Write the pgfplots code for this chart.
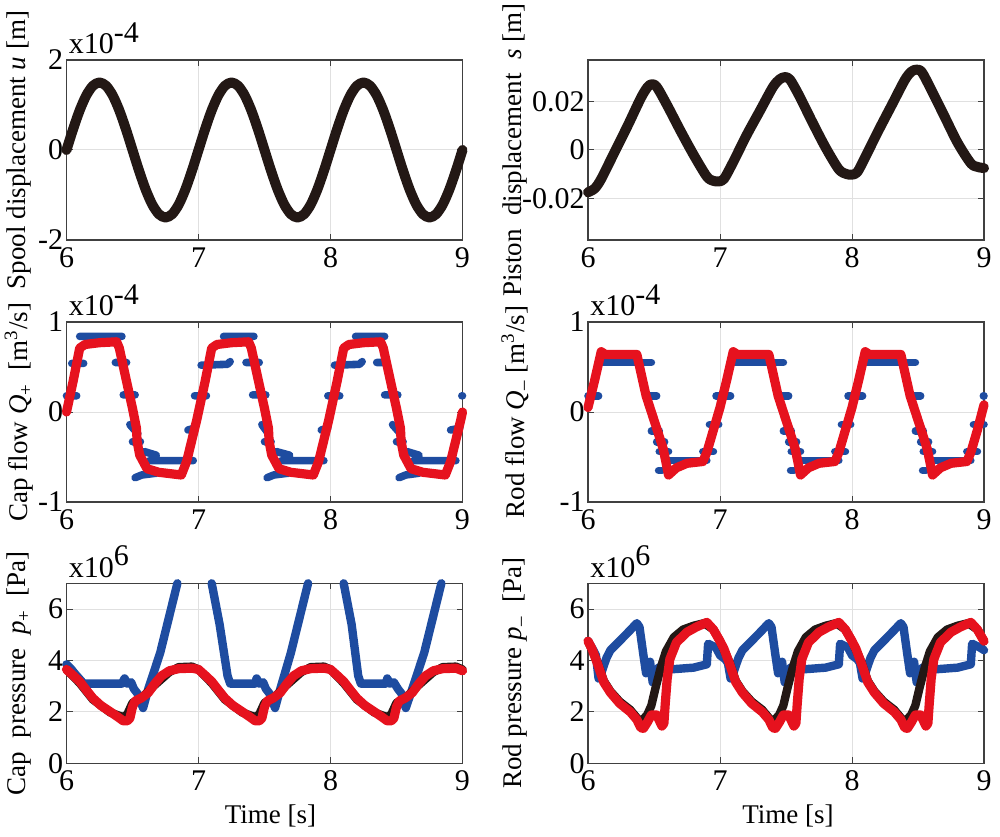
\documentclass[border=0pt]{standalone}
\usepackage{fontspec}
\setmainfont{Liberation Serif}
\usepackage{pgfplots}
\pgfplotsset{compat=1.18}
\definecolor{cblk}{RGB}{35,24,21}
\definecolor{cblue}{RGB}{30,76,160}
\definecolor{cred}{RGB}{230,18,30}
\pgfplotsset{
  myax/.style={
    scale only axis, width=198pt, height=90pt, anchor=south west,
    xmin=6, xmax=9, xtick={6,7,8,9}, xticklabels={6,7,8,9},
    scaled ticks=false,
    tick align=inside, major tick length=3pt,
    grid=major, major grid style={draw=black!12, line width=0.5pt},
    axis line style={draw=black!75, line width=0.6pt},
    tick style={draw=black!75, line width=0.5pt},
    tick label style={font=\fontsize{15}{18}\selectfont},
    yticklabel style={inner sep=1.5pt},
    xticklabel style={inner sep=3.5pt},
    label style={font=\fontsize{13.5}{16}\selectfont},
    clip=false, unbounded coords=jump,
    every axis plot/.append style={line cap=round, line join=round},
  },
  ylab/.style={ylabel style={at={(axis description cs:#1,0.5)}, anchor=center}},
  xlab/.style={xlabel style={at={(axis description cs:#1,-0.333)}, anchor=base}},
}
\newcommand{\mult}[1]{\node[anchor=base west, inner sep=0pt, font=\fontsize{15}{18}\selectfont] at (rel axis cs:0,1) [xshift=1pt, yshift=3pt] {x10\raisebox{5.8pt}{#1}};}
\begin{document}
\begin{tikzpicture}
\useasboundingbox (0,0) rectangle (500pt,418pt);
% ---------- Spool displacement
\begin{axis}[myax, at={(33.25pt,298pt)}, ymin=-2, ymax=2, ytick={-2,0,2}, yticklabels={-2,0,2},
  ylabel={Spool displacement \textit{u} [m]}, ylab=-0.12]
\addplot[cblk, line width=5pt, smooth] coordinates {
(6.00,0)(6.05,0.4635)(6.10,0.8817)(6.15,1.2135)(6.20,1.4266)(6.25,1.5)(6.30,1.4266)(6.35,1.2135)(6.40,0.8817)(6.45,0.4635)(6.50,0)(6.55,-0.4635)(6.60,-0.8817)(6.65,-1.2135)(6.70,-1.4266)(6.75,-1.5)(6.80,-1.4266)(6.85,-1.2135)(6.90,-0.8817)(6.95,-0.4635)
(7.00,0)(7.05,0.4635)(7.10,0.8817)(7.15,1.2135)(7.20,1.4266)(7.25,1.5)(7.30,1.4266)(7.35,1.2135)(7.40,0.8817)(7.45,0.4635)(7.50,0)(7.55,-0.4635)(7.60,-0.8817)(7.65,-1.2135)(7.70,-1.4266)(7.75,-1.5)(7.80,-1.4266)(7.85,-1.2135)(7.90,-0.8817)(7.95,-0.4635)
(8.00,0)(8.05,0.4635)(8.10,0.8817)(8.15,1.2135)(8.20,1.4266)(8.25,1.5)(8.30,1.4266)(8.35,1.2135)(8.40,0.8817)(8.45,0.4635)(8.50,0)(8.55,-0.4635)(8.60,-0.8817)(8.65,-1.2135)(8.70,-1.4266)(8.75,-1.5)(8.80,-1.4266)(8.85,-1.2135)(8.90,-0.8817)(8.95,-0.4635)(9.00,0)};
\mult{-4}
\end{axis}
% ---------- Piston displacement
\begin{axis}[myax, at={(294pt,298pt)}, ymin=-0.0373, ymax=0.0373, ytick={-0.02,0,0.02}, yticklabels={-0.02,0,0.02},
  ylabel={Piston\ \ displacement\ \ \textit{s} [m]}, ylab=-0.184]
\addplot[cblk, line width=5pt, smooth] coordinates {
(6.00,-0.0175)(6.05,-0.0160)(6.10,-0.0120)(6.20,-0.0010)(6.30,0.0100)(6.40,0.0215)(6.45,0.0260)(6.48,0.0272)(6.52,0.0262)(6.60,0.0185)(6.70,0.0080)(6.80,-0.0020)(6.90,-0.0110)(6.95,-0.0128)(6.99,-0.0130)
(7.03,-0.0120)(7.10,-0.0050)(7.20,0.0060)(7.30,0.0160)(7.40,0.0260)(7.45,0.0292)(7.49,0.0302)(7.53,0.0292)(7.60,0.0225)(7.70,0.0115)(7.80,0.0010)(7.90,-0.0080)(7.96,-0.0100)(8.00,-0.0102)
(8.04,-0.0092)(8.10,-0.0030)(8.20,0.0080)(8.30,0.0185)(8.40,0.0290)(8.45,0.0325)(8.49,0.0333)(8.53,0.0322)(8.60,0.0250)(8.70,0.0140)(8.80,0.0030)(8.90,-0.0055)(8.95,-0.0070)(9.00,-0.0075)};
\end{axis}
% ---------- Cap flow
\begin{axis}[myax, at={(33.25pt,167pt)}, ymin=-1, ymax=1, ytick={-1,0,1}, yticklabels={-1,0,1},
  ylabel={Cap flow \textit{Q}\textsubscript{+}\ \ [m\textsuperscript{3}/s]}, ylab=-0.12]
\addplot[cblue, line width=3.8pt] coordinates {
(6.00,0.18)(6.077,0.18)(6.077,nan)(6.04,0.54)(6.13,0.54)(6.13,nan)(6.10,0.84)(6.42,0.84)(6.42,nan)
(6.37,0.55)(6.455,0.55)(6.455,nan)(6.43,0.19)(6.52,0.19)(6.52,nan)(6.48,-0.14)(6.54,-0.24)(6.54,nan)
(6.50,-0.33)(6.56,-0.33)(6.56,nan)(6.59,-0.44)(6.68,-0.48)(6.68,nan)(6.63,-0.54)(6.96,-0.54)(6.96,nan)
(6.52,-0.73)(6.57,-0.70)(6.68,-0.68)(6.68,nan)(6.92,-0.20)(6.97,-0.18)(6.97,nan)(6.97,0.18)(7.06,0.18)(7.06,nan)
(7.02,0.52)(7.22,0.53)(7.24,0.56)(7.24,nan)(7.19,0.84)(7.42,0.84)(7.42,nan)(7.36,0.55)(7.46,0.55)(7.46,nan)
(7.41,0.19)(7.51,0.19)(7.51,nan)(7.48,-0.14)(7.53,-0.24)(7.53,nan)(7.50,-0.33)(7.55,-0.33)(7.55,nan)
(7.59,-0.44)(7.69,-0.48)(7.69,nan)(7.63,-0.54)(7.95,-0.54)(7.95,nan)(7.52,-0.73)(7.57,-0.70)(7.68,-0.68)(7.68,nan)
(7.93,-0.20)(7.98,-0.18)(7.98,nan)(7.98,0.18)(8.07,0.18)(8.07,nan)
(8.03,0.52)(8.22,0.53)(8.24,0.56)(8.24,nan)(8.19,0.84)(8.41,0.84)(8.41,nan)(8.35,0.55)(8.42,0.55)(8.42,nan)
(8.41,0.19)(8.51,0.19)(8.51,nan)(8.47,-0.14)(8.53,-0.24)(8.53,nan)(8.50,-0.33)(8.55,-0.33)(8.55,nan)
(8.58,-0.44)(8.67,-0.48)(8.67,nan)(8.63,-0.54)(8.95,-0.54)(8.95,nan)(8.52,-0.73)(8.57,-0.70)(8.67,-0.68)(8.67,nan)
(8.91,-0.20)(8.98,-0.18)(8.98,nan)(8.995,0.18)(9.00,0.18)};
\addplot[cred, line width=4.6pt] coordinates {
(6.00,0.00)(6.05,0.34)(6.10,0.71)(6.14,0.75)(6.25,0.77)(6.38,0.78)(6.40,0.71)(6.455,0.34)(6.50,0.04)(6.53,-0.18)(6.535,-0.33)(6.555,-0.48)(6.61,-0.63)(6.70,-0.67)(6.87,-0.70)(6.91,-0.55)(6.985,-0.10)
(7.00,0.00)(7.05,0.34)(7.10,0.71)(7.14,0.75)(7.25,0.77)(7.38,0.78)(7.40,0.71)(7.455,0.34)(7.50,0.04)(7.53,-0.18)(7.535,-0.33)(7.555,-0.48)(7.61,-0.63)(7.70,-0.67)(7.87,-0.70)(7.91,-0.55)(7.985,-0.10)
(8.00,0.00)(8.05,0.34)(8.10,0.71)(8.14,0.75)(8.25,0.77)(8.38,0.78)(8.40,0.71)(8.455,0.34)(8.50,0.04)(8.53,-0.18)(8.535,-0.33)(8.555,-0.48)(8.61,-0.63)(8.70,-0.67)(8.87,-0.70)(8.91,-0.55)(8.985,-0.10)(9.00,0.00)};
\mult{-4}
\end{axis}
% ---------- Rod flow
\begin{axis}[myax, at={(294pt,167pt)}, ymin=-1, ymax=1, ytick={-1,0,1}, yticklabels={-1,0,1},
  ylabel={Rod flow \textit{Q}\textsubscript{–} [m\textsuperscript{3}/s]}, ylab=-0.184]
\addplot[cblue, line width=3.8pt] coordinates {
(6.00,0.18)(6.08,0.18)(6.08,nan)(6.08,0.55)(6.48,0.55)(6.48,nan)(6.44,0.18)(6.52,0.18)(6.52,nan)
(6.48,-0.21)(6.54,-0.21)(6.54,nan)(6.52,-0.33)(6.58,-0.33)(6.58,nan)(6.54,-0.44)(6.61,-0.44)(6.61,nan)
(6.535,-0.65)(6.56,-0.65)(6.56,nan)(6.60,-0.54)(6.90,-0.54)(6.90,nan)(6.87,-0.44)(6.95,-0.44)(6.95,nan)
(6.92,-0.14)(6.99,-0.14)(6.99,nan)(6.97,0.18)(7.08,0.18)(7.08,nan)
(7.08,0.55)(7.48,0.55)(7.48,nan)(7.44,0.18)(7.52,0.18)(7.52,nan)
(7.48,-0.21)(7.54,-0.21)(7.54,nan)(7.52,-0.33)(7.58,-0.33)(7.58,nan)(7.54,-0.44)(7.61,-0.44)(7.61,nan)
(7.535,-0.65)(7.56,-0.65)(7.56,nan)(7.60,-0.54)(7.90,-0.54)(7.90,nan)(7.87,-0.44)(7.95,-0.44)(7.95,nan)
(7.92,-0.14)(7.99,-0.14)(7.99,nan)(7.97,0.18)(8.08,0.18)(8.08,nan)
(8.08,0.55)(8.48,0.55)(8.48,nan)(8.44,0.18)(8.52,0.18)(8.52,nan)
(8.48,-0.21)(8.54,-0.21)(8.54,nan)(8.52,-0.33)(8.58,-0.33)(8.58,nan)(8.54,-0.44)(8.61,-0.44)(8.61,nan)
(8.535,-0.65)(8.56,-0.65)(8.56,nan)(8.60,-0.54)(8.90,-0.54)(8.90,nan)(8.87,-0.44)(8.95,-0.44)(8.95,nan)
(8.92,-0.14)(9.00,-0.14)(9.00,nan)(8.995,0.18)(9.00,0.18)};
\addplot[cred, line width=4.6pt] coordinates {
(6.00,0.05)(6.05,0.35)(6.10,0.67)(6.13,0.64)(6.37,0.64)(6.44,0.18)(6.52,-0.18)(6.57,-0.41)(6.61,-0.70)(6.64,-0.66)(6.67,-0.62)(6.75,-0.57)(6.87,-0.55)(6.90,-0.45)(6.95,-0.20)
(7.00,0.05)(7.05,0.35)(7.10,0.67)(7.13,0.64)(7.37,0.64)(7.44,0.18)(7.52,-0.18)(7.57,-0.41)(7.61,-0.70)(7.64,-0.66)(7.67,-0.62)(7.75,-0.57)(7.87,-0.55)(7.90,-0.45)(7.95,-0.20)
(8.00,0.05)(8.05,0.35)(8.10,0.67)(8.13,0.64)(8.37,0.64)(8.44,0.18)(8.52,-0.18)(8.57,-0.41)(8.61,-0.70)(8.64,-0.66)(8.67,-0.62)(8.75,-0.57)(8.87,-0.55)(8.90,-0.45)(8.95,-0.20)(9.00,0.08)};
\mult{-4}
\end{axis}
% ---------- Cap pressure
\begin{axis}[myax, at={(33.25pt,36.35pt)}, ymin=0, ymax=7, ytick={0,2,4,6}, yticklabels={0,2,4,6},
  ylabel={Cap\ \ pressure\ \ \textit{p}\textsubscript{+}\ \ [Pa]}, ylab=-0.12,
  xlabel={Time [s]}, xlab=0.515]
\addplot[cblue, line width=4.2pt] coordinates {
(6.00,3.85)(6.03,3.70)(6.07,3.45)(6.13,3.10)(6.42,3.10)(6.44,3.30)(6.46,3.10)(6.49,3.15)(6.51,2.90)(6.54,2.70)(6.58,2.15)(6.62,2.90)(6.71,4.30)(6.84,7.00)(6.97,nan)
(7.10,7.00)(7.16,5.40)(7.22,3.40)(7.24,3.10)(7.43,3.10)(7.44,3.30)(7.46,3.10)(7.49,3.15)(7.51,2.90)(7.54,2.70)(7.58,2.15)(7.62,2.90)(7.70,4.30)(7.83,7.00)(7.97,nan)
(8.10,7.00)(8.16,5.40)(8.21,3.40)(8.23,3.10)(8.42,3.10)(8.43,3.30)(8.45,3.10)(8.48,3.15)(8.51,2.90)(8.54,2.70)(8.57,2.15)(8.62,2.90)(8.71,4.30)(8.84,7.00)};
\addplot[cblk, line width=4.2pt] coordinates {
(6.00,3.65)(6.10,3.12)(6.20,2.48)(6.33,1.98)(6.40,1.85)(6.43,1.80)(6.46,1.90)(6.50,2.35)(6.57,2.55)(6.67,3.05)(6.78,3.55)(6.85,3.74)(6.95,3.76)
(7.00,3.65)(7.10,3.12)(7.20,2.48)(7.33,1.98)(7.40,1.85)(7.43,1.80)(7.46,1.90)(7.50,2.35)(7.57,2.55)(7.67,3.05)(7.78,3.55)(7.85,3.74)(7.95,3.76)
(8.00,3.65)(8.10,3.12)(8.20,2.48)(8.33,1.98)(8.40,1.85)(8.43,1.80)(8.46,1.90)(8.50,2.35)(8.57,2.55)(8.67,3.05)(8.78,3.55)(8.85,3.74)(8.95,3.76)(9.00,3.65)};
\addplot[cred, line width=4.6pt] coordinates {
(6.00,3.65)(6.05,3.42)(6.10,3.18)(6.15,2.85)(6.20,2.53)(6.26,2.25)(6.33,2.01)(6.39,1.80)(6.43,1.65)(6.46,1.65)(6.48,1.75)(6.50,2.20)(6.52,2.42)(6.57,2.55)(6.62,2.75)(6.67,3.10)(6.72,3.40)(6.78,3.60)(6.85,3.68)(6.95,3.70)
(7.00,3.65)(7.05,3.42)(7.10,3.18)(7.15,2.85)(7.20,2.53)(7.26,2.25)(7.33,2.01)(7.39,1.80)(7.43,1.65)(7.46,1.65)(7.48,1.75)(7.50,2.20)(7.52,2.42)(7.57,2.55)(7.62,2.75)(7.67,3.10)(7.72,3.40)(7.78,3.60)(7.85,3.68)(7.95,3.70)
(8.00,3.65)(8.05,3.42)(8.10,3.18)(8.15,2.85)(8.20,2.53)(8.26,2.25)(8.33,2.01)(8.39,1.80)(8.43,1.65)(8.46,1.65)(8.48,1.75)(8.50,2.20)(8.52,2.42)(8.57,2.55)(8.62,2.75)(8.67,3.10)(8.72,3.40)(8.78,3.60)(8.85,3.68)(8.95,3.70)(9.00,3.60)};
\mult{6}
\end{axis}
% ---------- Rod pressure
\begin{axis}[myax, at={(294pt,36.35pt)}, ymin=0, ymax=7, ytick={0,2,4,6}, yticklabels={0,2,4,6},
  ylabel={Rod pressure \textit{p}\textsubscript{–}\ \ [Pa]}, ylab=-0.184,
  xlabel={Time [s]}, xlab=0.505]
\addplot[cblue, line width=4.2pt] coordinates {
(6.00,4.76)(6.04,4.40)(6.06,4.20)(6.08,3.30)(6.10,3.50)(6.14,4.10)(6.17,4.40)(6.24,4.76)(6.29,5.02)(6.37,5.45)(6.39,5.30)(6.42,4.20)(6.44,3.50)(6.47,3.95)(6.49,3.15)(6.53,3.70)(6.58,3.85)(6.645,3.66)(6.80,3.72)(6.90,3.85)(6.91,4.65)(6.97,4.50)(7.00,4.20)
(7.04,4.05)(7.06,3.90)(7.08,3.30)(7.10,3.50)(7.14,4.10)(7.17,4.40)(7.24,4.76)(7.29,5.02)(7.37,5.45)(7.39,5.30)(7.42,4.20)(7.44,3.50)(7.47,3.95)(7.49,3.15)(7.53,3.70)(7.58,3.85)(7.645,3.66)(7.80,3.72)(7.90,3.85)(7.91,4.65)(7.97,4.50)(8.00,4.20)
(8.04,4.05)(8.06,3.90)(8.08,3.30)(8.10,3.50)(8.14,4.10)(8.17,4.40)(8.24,4.76)(8.29,5.02)(8.37,5.45)(8.39,5.30)(8.42,4.20)(8.44,3.50)(8.47,3.95)(8.49,3.15)(8.53,3.70)(8.58,3.85)(8.645,3.66)(8.80,3.72)(8.90,3.85)(8.91,4.65)(8.97,4.50)(9.00,4.40)};
\addplot[cblk, line width=4.2pt] coordinates {
(6.00,4.75)(6.07,3.95)(6.12,3.20)(6.17,2.80)(6.24,2.40)(6.32,2.08)(6.39,1.65)(6.42,1.72)(6.45,1.90)(6.48,2.25)(6.51,2.90)(6.55,3.70)(6.59,4.35)(6.65,4.90)(6.72,5.20)(6.80,5.35)(6.88,5.45)(6.95,5.20)
(7.00,4.75)(7.07,3.95)(7.12,3.20)(7.17,2.80)(7.24,2.40)(7.32,2.08)(7.39,1.65)(7.42,1.72)(7.45,1.90)(7.48,2.25)(7.51,2.90)(7.55,3.70)(7.59,4.35)(7.65,4.90)(7.72,5.20)(7.80,5.35)(7.88,5.45)(7.95,5.20)
(8.00,4.75)(8.07,3.95)(8.12,3.20)(8.17,2.80)(8.24,2.40)(8.32,2.08)(8.39,1.65)(8.42,1.72)(8.45,1.90)(8.48,2.25)(8.51,2.90)(8.55,3.70)(8.59,4.35)(8.65,4.90)(8.72,5.20)(8.80,5.35)(8.88,5.45)(8.95,5.20)(9.00,4.75)};
\addplot[cred, line width=4.6pt] coordinates {
(6.00,4.75)(6.03,4.45)(6.07,3.90)(6.12,3.15)(6.17,2.75)(6.24,2.33)(6.32,2.00)(6.37,1.70)(6.40,1.38)(6.42,1.36)(6.45,1.60)(6.48,1.88)(6.52,1.88)(6.56,1.45)(6.575,1.55)(6.585,2.30)(6.60,3.30)(6.62,4.05)(6.67,4.70)(6.75,5.10)(6.82,5.30)(6.90,5.48)(6.95,5.20)
(7.00,4.75)(7.03,4.45)(7.07,3.90)(7.12,3.15)(7.17,2.75)(7.24,2.33)(7.32,2.00)(7.37,1.70)(7.40,1.38)(7.42,1.36)(7.45,1.60)(7.48,1.88)(7.52,1.88)(7.56,1.45)(7.575,1.55)(7.585,2.30)(7.60,3.30)(7.62,4.05)(7.67,4.70)(7.75,5.10)(7.82,5.30)(7.90,5.48)(7.95,5.20)
(8.00,4.75)(8.03,4.45)(8.07,3.90)(8.12,3.15)(8.17,2.75)(8.24,2.33)(8.32,2.00)(8.37,1.70)(8.40,1.38)(8.42,1.36)(8.45,1.60)(8.48,1.88)(8.52,1.88)(8.56,1.45)(8.575,1.55)(8.585,2.30)(8.60,3.30)(8.62,4.05)(8.67,4.70)(8.75,5.10)(8.82,5.30)(8.90,5.48)(8.95,5.20)(9.00,4.75)};
\mult{6}
\end{axis}
\end{tikzpicture}
\end{document}
